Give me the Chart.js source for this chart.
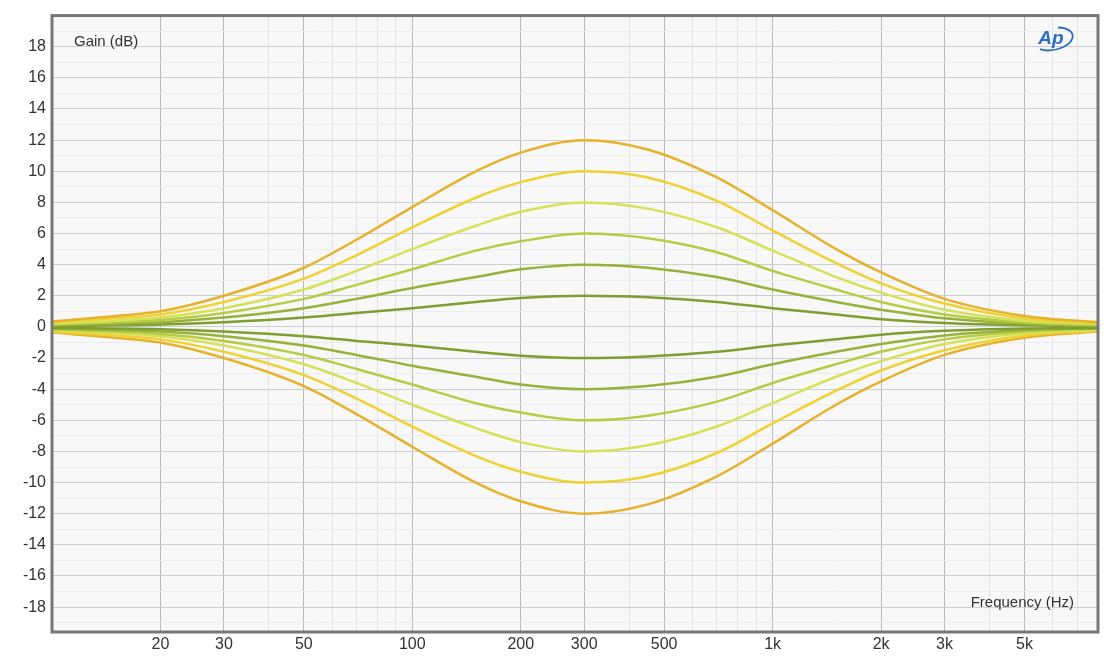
<!DOCTYPE html>
<html><head><meta charset="utf-8">
<script src="https://cdn.jsdelivr.net/npm/chart.js@4"></script>
<style>html,body{margin:0;background:#fff}#wrap{width:1104px;height:665px}</style>
</head><body><div id="wrap"><canvas id="c"></canvas></div>
<script>
// frequencies (Hz)
const freqs = [10,15,20,30,50,70,100,150,200,300,450,700,1000,1500,2000,3000,5000,8000];
const boost12 = [0.35,0.7,1.0,2.0,3.8,5.6,7.7,10.0,11.2,12.0,11.4,9.6,7.5,5.0,3.5,1.8,0.7,0.3];
const boost10 = [0.3,0.55,0.8,1.6,3.1,4.6,6.4,8.3,9.3,10.0,9.6,8.1,6.2,4.1,2.8,1.5,0.55,0.25];
const boost8  = [0.2,0.4,0.6,1.2,2.4,3.6,5.0,6.5,7.4,8.0,7.6,6.4,4.9,3.2,2.2,1.1,0.4,0.2];
const boost6  = [0.15,0.3,0.45,0.9,1.8,2.7,3.7,4.9,5.5,6.0,5.7,4.8,3.6,2.4,1.6,0.8,0.3,0.1];
const boost4  = [0.1,0.2,0.3,0.6,1.2,1.8,2.5,3.2,3.7,4.0,3.8,3.2,2.4,1.6,1.1,0.55,0.2,0.1];
const boost2  = [0.05,0.1,0.15,0.3,0.6,0.9,1.2,1.6,1.85,2.0,1.9,1.6,1.2,0.8,0.5,0.25,0.1,0.05];
const cut2  = [-0.05,-0.1,-0.15,-0.3,-0.6,-0.9,-1.2,-1.6,-1.85,-2.0,-1.9,-1.6,-1.2,-0.8,-0.5,-0.25,-0.1,-0.05];
const cut4  = [-0.1,-0.2,-0.3,-0.6,-1.2,-1.8,-2.5,-3.2,-3.7,-4.0,-3.8,-3.2,-2.4,-1.6,-1.1,-0.55,-0.2,-0.1];
const cut6  = [-0.15,-0.3,-0.45,-0.9,-1.8,-2.7,-3.7,-4.9,-5.5,-6.0,-5.7,-4.8,-3.6,-2.4,-1.6,-0.8,-0.3,-0.1];
const cut8  = [-0.2,-0.4,-0.6,-1.2,-2.4,-3.6,-5.0,-6.5,-7.4,-8.0,-7.6,-6.4,-4.9,-3.2,-2.2,-1.1,-0.4,-0.2];
const cut10 = [-0.3,-0.55,-0.8,-1.6,-3.1,-4.6,-6.4,-8.3,-9.3,-10.0,-9.6,-8.1,-6.2,-4.1,-2.8,-1.5,-0.55,-0.25];
const cut12 = [-0.35,-0.7,-1.0,-2.0,-3.8,-5.6,-7.7,-10.0,-11.2,-12.0,-11.4,-9.6,-7.5,-5.0,-3.5,-1.8,-0.7,-0.3];

const xGrid = [10,20,30,40,50,60,70,80,90,100,200,300,400,500,600,700,800,900,1000,2000,3000,4000,5000,6000,7000,8000];
const xLabels = {20:'20',30:'30',50:'50',100:'100',200:'200',300:'300',500:'500',1000:'1k',2000:'2k',3000:'3k',5000:'5k'};
const yTicks = [-19,-18,-17,-16,-15,-14,-13,-12,-11,-10,-9,-8,-7,-6,-5,-4,-3,-2,-1,0,1,2,3,4,5,6,7,8,9,10,11,12,13,14,15,16,17,18,19];

const curves = [
  [boost12,'#e6b22c'],[boost10,'#efd232'],[boost8,'#d6e158'],[boost6,'#b6cc44'],[boost4,'#97b23a'],[boost2,'#7f9e30'],
  [cut2,'#7f9e30'],[cut4,'#97b23a'],[cut6,'#b6cc44'],[cut8,'#d6e158'],[cut10,'#efd232'],[cut12,'#e6b22c']
];

const labelsPlugin = {
  id:'labels',
  afterDraw(chart){
    const {ctx, chartArea:a} = chart;
    ctx.save();
    ctx.fillStyle = '#333';
    ctx.font = '15px "Liberation Sans", Arial, sans-serif';
    ctx.textBaseline = 'middle';
    ctx.textAlign = 'left';
    ctx.fillText('Gain (dB)', a.left+22, 42);
    ctx.textAlign = 'right';
    ctx.fillText('Frequency (Hz)', a.right-24, 603);
    ctx.fillStyle = '#2a6fc0';
    ctx.font = 'italic bold 19px "Liberation Sans", Arial, sans-serif';
    ctx.textAlign = 'center';
    ctx.fillText('Ap', a.right-47, 39);
    ctx.strokeStyle = '#2a6fc0'; ctx.lineWidth = 1.8;
    ctx.beginPath(); ctx.ellipse(a.right-45, 39, 20, 11, -0.2, -1.2, 2.4); ctx.stroke();
    ctx.strokeStyle = '#777'; ctx.lineWidth = 3;
    ctx.strokeRect(a.left, a.top, a.right-a.left, a.bottom-a.top);
    ctx.restore();
  }
};

new Chart(document.getElementById('c'), {
  type:'line',
  data:{ datasets: curves.map(([vals,col])=>({
    data: freqs.map((f,i)=>({x:f,y:vals[i]})),
    borderColor: col, borderWidth: 2.5, pointRadius: 0, tension: 0.4, cubicInterpolationMode:'monotone', fill:false
  }))},
  options:{
    responsive:true, maintainAspectRatio:false, animation:false,
    layout:{ padding:{ top:4, right:6 } },
    plugins:{ legend:{display:false}, tooltip:{enabled:false} },
    scales:{
      x:{ type:'logarithmic', min:10, max:8000,
        afterBuildTicks(s){ s.ticks = xGrid.map(v=>({value:v})); },
        afterFit(s){ s.height = 33; },
        ticks:{ autoSkip:false, maxRotation:0, color:'#333', font:{size:16, family:'"Liberation Sans", Arial, sans-serif'},
          callback:(v)=> xLabels[v] || '' },
        grid:{ color:(c)=> xLabels[c.tick.value] || c.tick.value===100 || c.tick.value===1000 ? '#b8b8b8' : '#e2e2e2', drawTicks:false },
        border:{ display:false }
      },
      y:{ min:-19.6, max:20,
        afterBuildTicks(s){ s.ticks = yTicks.map(v=>({value:v})); },
        afterFit(s){ s.width = 52; },
        ticks:{ autoSkip:false, color:'#333', padding:6, font:{size:16, family:'"Liberation Sans", Arial, sans-serif'},
          callback:(v)=> v%2===0 ? String(v) : '' },
        grid:{ color:(c)=> c.tick.value%2===0 ? '#cfcfcf' : '#ececec', drawTicks:false },
        border:{ display:false }
      }
    }
  },
  plugins:[labelsPlugin,{id:'bg',beforeDraw(ch){const {ctx,chartArea:a}=ch;ctx.save();ctx.fillStyle='#f8f8f8';ctx.fillRect(a.left,a.top,a.right-a.left,a.bottom-a.top);ctx.restore();}}]
});
</script></body></html>
